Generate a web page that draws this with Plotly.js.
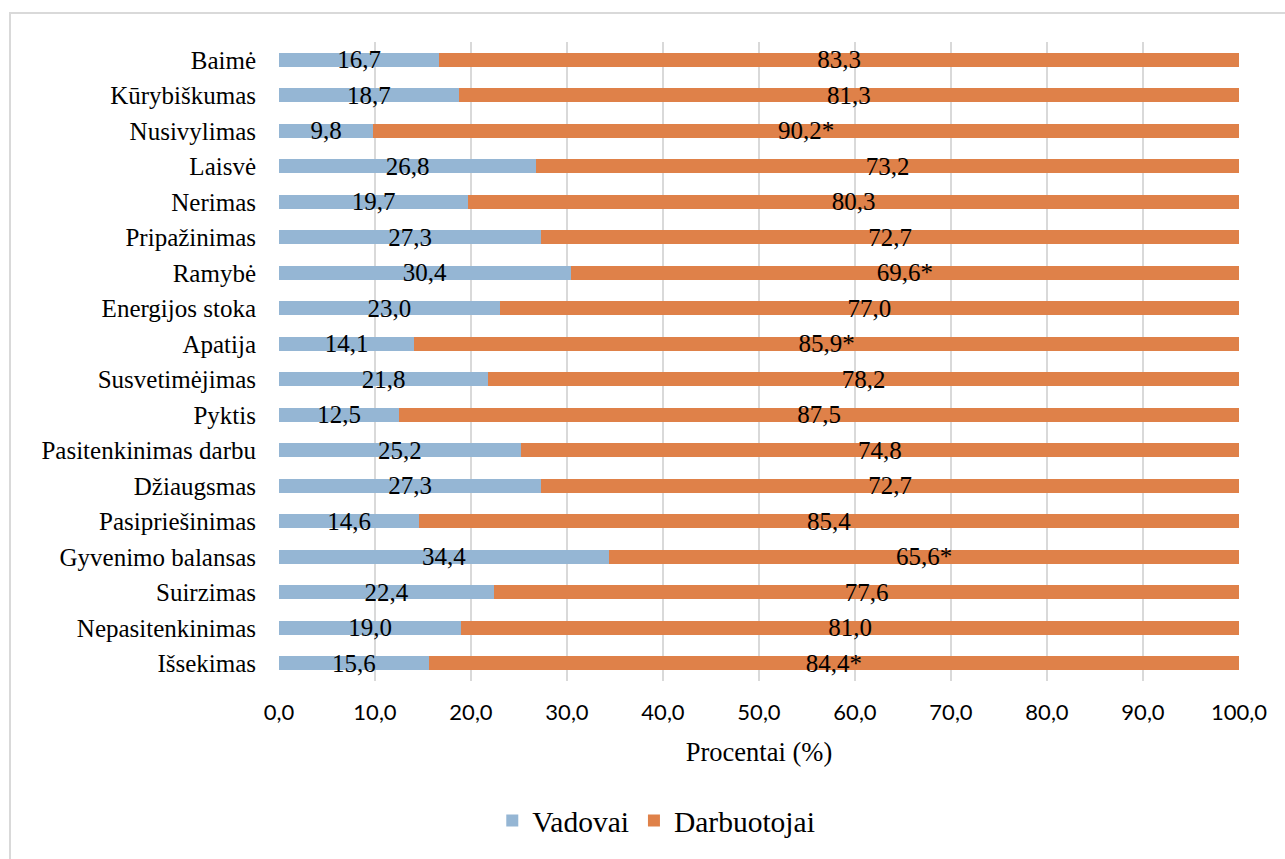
<!DOCTYPE html>
<html>
<head>
<meta charset="utf-8">
<script src="https://cdn.plot.ly/plotly-3.0.1.min.js"></script>
<style>
  html, body { margin: 0; padding: 0; background: #ffffff; overflow: hidden; }
  #frame { position: absolute; left: 9px; top: 12px; width: 1320px; height: 900px; border: 2px solid #d9d9d9; box-sizing: border-box; }
  #chart { position: absolute; left: 0; top: 0; width: 1285px; height: 859px; }
</style>
</head>
<body>
<div id="frame"></div>
<div id="chart"></div>
<script>
const categories = ["Baimė", "Kūrybiškumas", "Nusivylimas", "Laisvė", "Nerimas", "Pripažinimas", "Ramybė", "Energijos stoka", "Apatija", "Susvetimėjimas", "Pyktis", "Pasitenkinimas darbu", "Džiaugsmas", "Pasipriešinimas", "Gyvenimo balansas", "Suirzimas", "Nepasitenkinimas", "Išsekimas"];
const vadovai = [16.7, 18.7, 9.8, 26.8, 19.7, 27.3, 30.4, 23.0, 14.1, 21.8, 12.5, 25.2, 27.3, 14.6, 34.4, 22.4, 19.0, 15.6];
const darbuotojai = [83.3, 81.3, 90.2, 73.2, 80.3, 72.7, 69.6, 77.0, 85.9, 78.2, 87.5, 74.8, 72.7, 85.4, 65.6, 77.6, 81.0, 84.4];
const darbuotojaiSignificant = [false, false, true, false, false, false, true, false, true, false, false, false, false, false, true, false, false, true];
const xTicks = [0, 10, 20, 30, 40, 50, 60, 70, 80, 90, 100];

const fmt = v => v.toFixed(1).replace('.', ',');
const vadText = vadovai.map(fmt);
const darbText = darbuotojai.map((v, i) => fmt(v) + (darbuotojaiSignificant[i] ? '*' : ''));

const serif = "Liberation Serif, serif";
const sans = "Lato, sans-serif";

const common = {
  type: 'bar',
  orientation: 'h',
  y: categories,
  textposition: 'inside',
  insidetextanchor: 'middle',
  constraintext: 'none',
  textangle: 0,
  cliponaxis: false,
  textfont: { family: serif, size: 25, color: '#000000' },
  insidetextfont: { family: serif, size: 25, color: '#000000' },
  hoverinfo: 'x+y+name'
};

const traces = [
  Object.assign({}, common, {
    name: 'Vadovai',
    x: vadovai,
    text: vadText,
    marker: { color: '#95b6d4', line: { width: 0 } }
  }),
  Object.assign({}, common, {
    name: 'Darbuotojai',
    x: darbuotojai,
    text: darbText,
    marker: { color: '#df8149', line: { width: 0 } }
  })
];

const layout = {
  width: 1285,
  height: 859,
  margin: { l: 279, r: 46, t: 42, b: 172 },
  paper_bgcolor: 'rgba(0,0,0,0)',
  plot_bgcolor: 'rgba(0,0,0,0)',
  barmode: 'stack',
  bargap: 0.61,
  showlegend: true,
  xaxis: {
    range: [0, 100],
    tickvals: xTicks,
    ticktext: xTicks.map(fmt),
    showgrid: true,
    gridcolor: '#d9d9d9',
    gridwidth: 1.5,
    zeroline: false,
    showline: false,
    ticks: '',
    ticklabelstandoff: 16,
    tickfont: { family: sans, size: 22, color: '#000000' },
    title: { text: 'Procentai (%)', font: { family: serif, size: 26.5, color: '#000000' }, standoff: 18 },
    fixedrange: true
  },
  yaxis: {
    type: 'category',
    categoryorder: 'array',
    categoryarray: categories,
    autorange: 'reversed',
    showgrid: false,
    zeroline: false,
    showline: false,
    ticks: '',
    ticklabelstandoff: 22,
    tickfont: { family: serif, size: 25, color: '#000000' },
    fixedrange: true
  },
  legend: {
    orientation: 'h',
    x: 0.393,
    xanchor: 'center',
    y: -0.219,
    yanchor: 'middle',
    font: { family: serif, size: 29.5, color: '#000000' },
    traceorder: 'normal',
    bgcolor: 'rgba(0,0,0,0)'
  }
};

Plotly.newPlot('chart', traces, layout, { displayModeBar: false, staticPlot: true });
</script>
</body>
</html>
